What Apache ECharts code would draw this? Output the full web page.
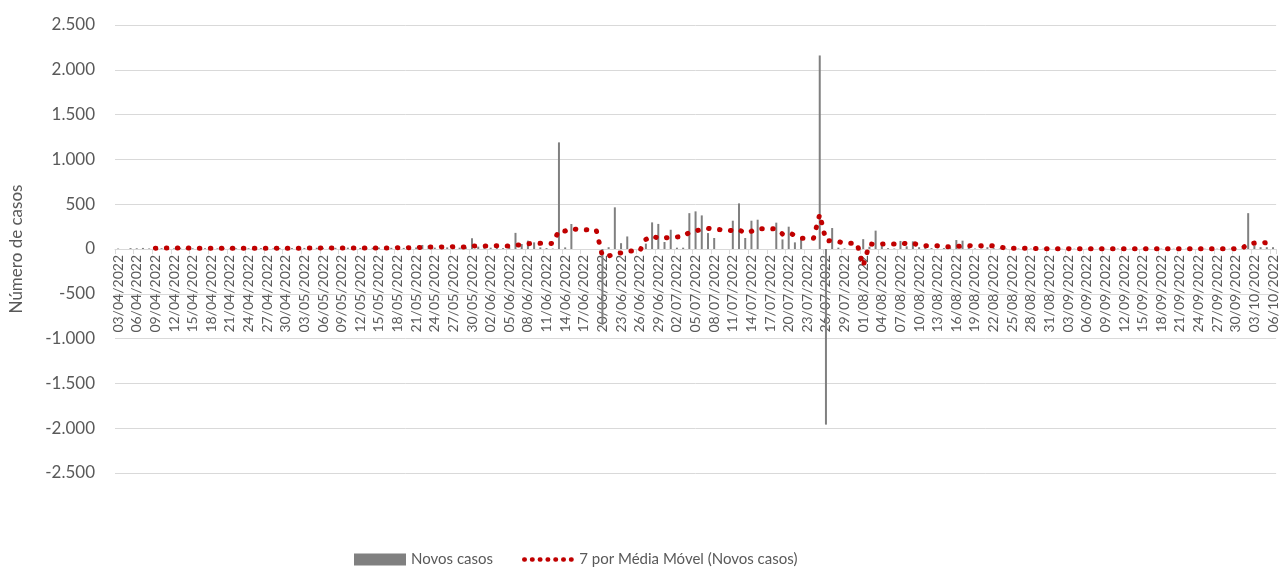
<!DOCTYPE html>
<html>
<head>
<meta charset="utf-8">
<script src="https://cdn.jsdelivr.net/npm/echarts@6/dist/echarts.min.js"></script>
<style>
html,body{margin:0;padding:0;background:#fff;}
#chart{width:1280px;height:567px;}
</style>
</head>
<body>
<div id="chart"></div>
<script>
// Categories (dates)
const categories = [
"03/04/2022","04/04/2022","05/04/2022","06/04/2022","07/04/2022","08/04/2022","09/04/2022","10/04/2022","11/04/2022","12/04/2022","13/04/2022","14/04/2022","15/04/2022","16/04/2022","17/04/2022","18/04/2022","19/04/2022","20/04/2022","21/04/2022","22/04/2022","23/04/2022","24/04/2022","25/04/2022","26/04/2022","27/04/2022","28/04/2022","29/04/2022","30/04/2022",
"01/05/2022","02/05/2022","03/05/2022","04/05/2022","05/05/2022","06/05/2022","07/05/2022","08/05/2022","09/05/2022","10/05/2022","11/05/2022","12/05/2022","13/05/2022","14/05/2022","15/05/2022","16/05/2022","17/05/2022","18/05/2022","19/05/2022","20/05/2022","21/05/2022","22/05/2022","23/05/2022","24/05/2022","25/05/2022","26/05/2022","27/05/2022","28/05/2022","29/05/2022","30/05/2022","31/05/2022",
"01/06/2022","02/06/2022","03/06/2022","04/06/2022","05/06/2022","06/06/2022","07/06/2022","08/06/2022","09/06/2022","10/06/2022","11/06/2022","12/06/2022","13/06/2022","14/06/2022","15/06/2022","16/06/2022","17/06/2022","18/06/2022","19/06/2022","20/06/2022","21/06/2022","22/06/2022","23/06/2022","24/06/2022","25/06/2022","26/06/2022","27/06/2022","28/06/2022","29/06/2022","30/06/2022",
"01/07/2022","02/07/2022","03/07/2022","04/07/2022","05/07/2022","06/07/2022","07/07/2022","08/07/2022","09/07/2022","10/07/2022","11/07/2022","12/07/2022","13/07/2022","14/07/2022","15/07/2022","16/07/2022","17/07/2022","18/07/2022","19/07/2022","20/07/2022","21/07/2022","22/07/2022","23/07/2022","24/07/2022","25/07/2022","26/07/2022","27/07/2022","28/07/2022","29/07/2022","30/07/2022","31/07/2022",
"01/08/2022","02/08/2022","03/08/2022","04/08/2022","05/08/2022","06/08/2022","07/08/2022","08/08/2022","09/08/2022","10/08/2022","11/08/2022","12/08/2022","13/08/2022","14/08/2022","15/08/2022","16/08/2022","17/08/2022","18/08/2022","19/08/2022","20/08/2022","21/08/2022","22/08/2022","23/08/2022","24/08/2022","25/08/2022","26/08/2022","27/08/2022","28/08/2022","29/08/2022","30/08/2022","31/08/2022",
"01/09/2022","02/09/2022","03/09/2022","04/09/2022","05/09/2022","06/09/2022","07/09/2022","08/09/2022","09/09/2022","10/09/2022","11/09/2022","12/09/2022","13/09/2022","14/09/2022","15/09/2022","16/09/2022","17/09/2022","18/09/2022","19/09/2022","20/09/2022","21/09/2022","22/09/2022","23/09/2022","24/09/2022","25/09/2022","26/09/2022","27/09/2022","28/09/2022","29/09/2022","30/09/2022",
"01/10/2022","02/10/2022","03/10/2022","04/10/2022","05/10/2022","06/10/2022"
];

// Novos casos (daily), by month
const casesApr = [5,0,10,8,12,6,15,9,11,7,13,10,8,6,9,12,7,10,5,8,11,9,6,10,8,7,12,9];
const casesMay = [10,8,12,9,14,11,7,13,10,15,9,12,8,14,16,11,13,18,12,15,17,45,37,15,20,18,22,15,20,120,26];
const casesJun = [20,15,30,10,20,180,56,93,74,18,10,5,1190,18,279,0,0,0,0,-850,20,465,65,140,0,0,60,297,280,78];
const casesJul = [215,15,15,400,420,375,178,123,0,0,316,509,123,316,327,0,0,294,107,249,74,126,0,0,2160,-1960,234,15,8,0,0];
const casesAug = [110,25,205,40,10,5,90,30,85,20,15,10,5,10,20,100,93,15,5,5,20,10,5,5,5,5,3,4,6,3,4];
const casesSep = [3,2,4,3,5,2,3,4,2,3,5,3,2,4,3,2,3,4,2,3,5,3,2,4,3,2,3,4,3,5];
const casesOct = [4,400,40,20,20,20];

// 7 por Média Móvel (read from the dotted trendline)
const maApr = [null,null,null,null,null,null,8,9,10,10,10,10,10,9,9,9,9,9,8,8,9,9,8,8,8,8,9,9];
const maMay = [9,9,9,10,11,10,10,11,11,11,11,11,11,12,12,12,12,13,13,14,15,19,22,23,23,24,25,25,21,33,34];
const maJun = [34,34,35,34,34,43,47,58,66,64,64,62,207,201,228,217,215,213,212,-79,-79,-52,-43,-23,-23,-23,107,147,120,122];
const maJul = [133,135,137,186,203,217,231,218,216,214,202,214,178,198,227,227,227,224,167,185,150,121,121,121,388,93,91,82,65,65,65];
const maAug = [-190,56,52,55,56,56,69,58,66,40,36,36,36,25,24,26,36,36,35,35,37,35,22,9,8,8,8,5,5,4,4];
const maSep = [4,4,4,3,3,3,3,3,3,3,3,3,3,3,3,3,3,3,3,3,3,3,3,3,3,3,3,3,3,4];
const maOct = [4,60,66,68,70,73];

const yTicks = {min:-2500, max:2500, interval:500};

const cases = [].concat(casesApr,casesMay,casesJun,casesJul,casesAug,casesSep,casesOct);
const ma = [].concat(maApr,maMay,maJun,maJul,maAug,maSep,maOct);

const FONT = 'Lato';
const GRID = {left:115,right:0,top:25,bottom:94};
const plotH = 567 - GRID.top - GRID.bottom;
const zeroOffset = -plotH * (0 - yTicks.min) / (yTicks.max - yTicks.min);

const chart = echarts.init(document.getElementById('chart'), null, {renderer:'canvas'});
function fmt(v){
  const s = Math.abs(v).toString().replace(/\B(?=(\d{3})+(?!\d))/g,'.');
  return (v<0?'-':'') + s;
}
chart.setOption({
  animation:false,
  backgroundColor:'#ffffff',
  textStyle:{fontFamily:FONT},
  grid:{left:GRID.left,right:GRID.right,top:GRID.top,bottom:GRID.bottom,containLabel:false},
  legend:[{
    data:[{name:'Novos casos',icon:'rect'}],
    left:349, top:547,
    itemWidth:52, itemHeight:12,
    textStyle:{fontFamily:FONT,fontSize:15,color:'#595959'}
  },{
    data:['7 por Média Móvel (Novos casos)'],
    left:517, top:547,
    itemWidth:54, itemHeight:12,
    itemStyle:{opacity:0},
    lineStyle:{type:[0.5,7.3],width:4.5,cap:'round',color:'#c00000'},
    textStyle:{fontFamily:FONT,fontSize:15,color:'#595959',padding:[0,0,0,-4]}
  }],
  xAxis:{
    type:'category',
    data:categories,
    boundaryGap:true,
    offset:zeroOffset,
    axisLine:{onZero:false,lineStyle:{color:'#d9d9d9',width:1}},
    axisTick:{show:true,interval:2,length:5,lineStyle:{color:'#d9d9d9'}},
    axisLabel:{interval:2,rotate:90,margin:6,fontFamily:FONT,fontSize:14,color:'#595959'},
    splitLine:{show:false}
  },
  yAxis:{
    type:'value',
    min:yTicks.min,max:yTicks.max,interval:yTicks.interval,
    name:'Número de casos',
    nameLocation:'middle',
    nameRotate:90,
    nameGap:90,
    nameTextStyle:{fontFamily:FONT,fontSize:17,color:'#595959'},
    axisLine:{show:false},
    axisTick:{show:false},
    axisLabel:{formatter:fmt,fontFamily:FONT,fontSize:17,color:'#595959',margin:20},
    splitLine:{lineStyle:{color:'#d9d9d9',width:1}}
  },
  series:[{
    name:'Novos casos',
    type:'bar',
    data:cases,
    barWidth:2,
    itemStyle:{color:'#808080'},
    z:2
  },{
    name:'7 por Média Móvel (Novos casos)',
    type:'line',
    data:ma,
    symbol:'none',
    connectNulls:false,
    lineStyle:{color:'#c00000',width:5,type:[0.5,10.5],cap:'round',join:'round'},
    itemStyle:{color:'#c00000'},
    z:3
  }]
});
</script>
</body>
</html>
